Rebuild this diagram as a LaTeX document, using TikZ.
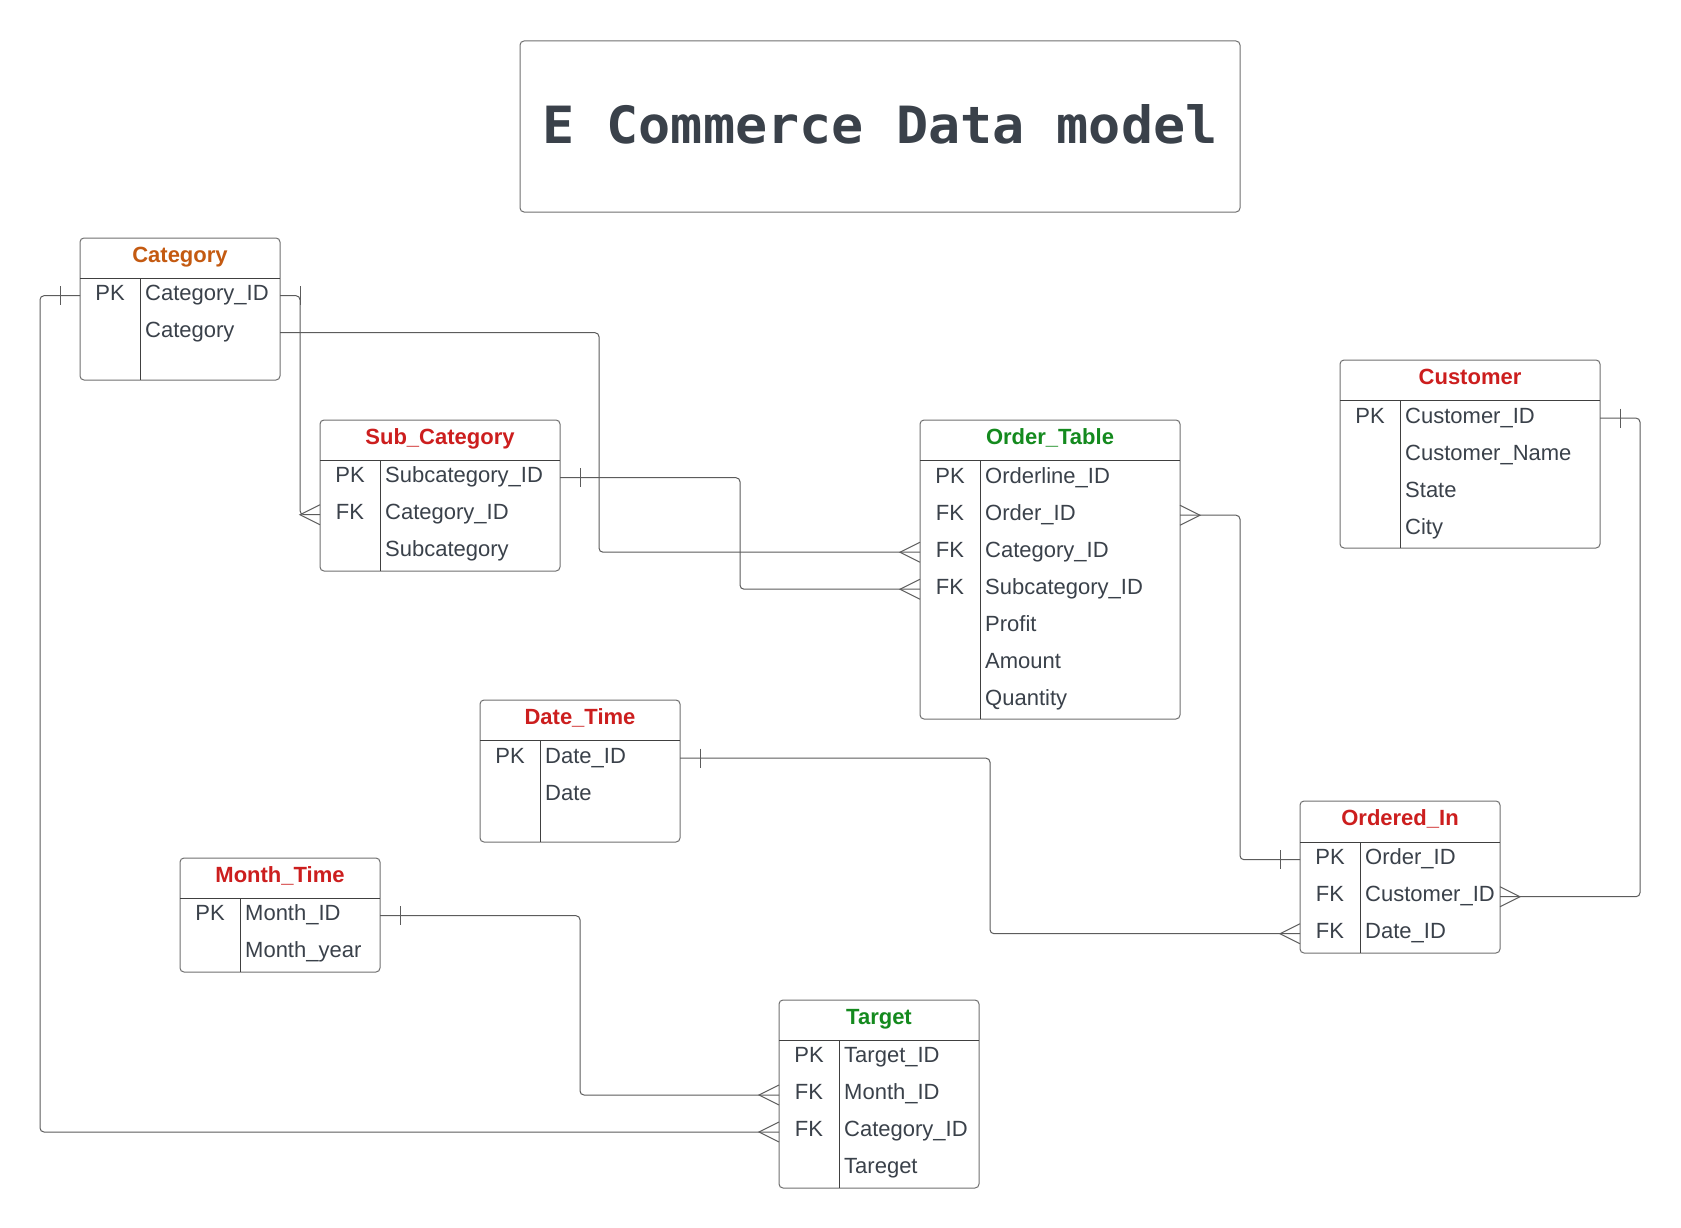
\documentclass[tikz,border=0pt]{standalone}
\usepackage{fontspec}
\usepackage{graphicx}
\setmainfont{Liberation Sans}
\newfontfamily\titlefont{DejaVu Sans Mono}
\usetikzlibrary{calc}
\definecolor{bordergray}{HTML}{707070}
\definecolor{innergray}{HTML}{404040}
\definecolor{linegray}{HTML}{5C5C5C}
\definecolor{txtgray}{HTML}{3A414A}
\definecolor{orangeH}{HTML}{C45A11}
\definecolor{redH}{HTML}{CC1E1E}
\definecolor{greenH}{HTML}{148A1E}
% #1 name #2 L #3 T #4 R #5 header-line y #6 B #7 colour #8 title
\newcommand\ertable[8]{%
  \node[tblbox, anchor=north west, minimum width={#4-#2}, minimum height={#6-#3}] (#1) at (#2,#3) {};
  \draw[tblinner] (#2,#5) -- (#4,#5) (#2+60,#5) -- (#2+60,#6);
  \node[hdrtext, text=#7] (#1-title) at ({(#2+#4)/2},{#3+24.5}) {#8};
}
% #1 name #2 L #3 header-line y #4 index #5 key #6 field
\newcommand\errow[6]{%
  \coordinate (#1) at (#2,{#3+17.7+37*(#4-1)});
  \node[keytext] (#1-k) at ({#2+30},{#3+22.6+37*(#4-1)}) {#5};
  \node[fieldtext] (#1-f) at ({#2+65},{#3+22.6+37*(#4-1)}) {#6};
}
\begin{document}
\begin{tikzpicture}[x=1pt,y=-1pt,
  tblbox/.style={draw=bordergray, line width=1pt, rounded corners=4pt, inner sep=0pt, outer sep=0pt, fill=white},
  tblinner/.style={draw=innergray, line width=1pt},
  hdrtext/.style={anchor=base, inner sep=0pt, font=\fontsize{22}{26}\selectfont\bfseries},
  keytext/.style={anchor=base, inner sep=0pt, text=txtgray, font=\fontsize{22}{26}\selectfont},
  fieldtext/.style={anchor=base west, inner sep=0pt, text=txtgray, font=\fontsize{22}{26}\selectfont},
  conn/.style={draw=linegray, line width=1pt, rounded corners=4pt},
  crow/.pic={\draw[draw=linegray, line width=1pt] (0,-10) -- (-20,0) -- (0,10);},
  onetick/.pic={\draw[draw=linegray, line width=1pt] (0,-9.5) -- (0,9.5);}
]
\fill[white] (0,0) rectangle (1681,1228);
\useasboundingbox (0,0) rectangle (1681,1228);

% title
\node[draw=bordergray, line width=1pt, rounded corners=4pt, minimum width=720, minimum height=171, inner sep=0pt] (titlebox) at (880,126.5) {};
\node[anchor=base, inner sep=0pt, text=txtgray] (title) at (880,143.3) {\resizebox{675pt}{39pt}{\titlefont\bfseries E Commerce Data model}};

% tables
\ertable{cat}{80}{238}{280}{278}{380}{orangeH}{Category}
\errow{cat-r1}{80}{278}{1}{PK}{Category\_ID}
\errow{cat-r2}{80}{278}{2}{}{Category}

\ertable{sub}{320}{420}{560}{460}{571}{redH}{Sub\_Category}
\errow{sub-r1}{320}{460}{1}{PK}{Subcategory\_ID}
\errow{sub-r2}{320}{460}{2}{FK}{Category\_ID}
\errow{sub-r3}{320}{460}{3}{}{Subcategory}

\ertable{ord}{920}{420}{1180}{460.5}{719}{greenH}{Order\_Table}
\errow{ord-r1}{920}{460.5}{1}{PK}{Orderline\_ID}
\errow{ord-r2}{920}{460.5}{2}{FK}{Order\_ID}
\errow{ord-r3}{920}{460.5}{3}{FK}{Category\_ID}
\errow{ord-r4}{920}{460.5}{4}{FK}{Subcategory\_ID}
\errow{ord-r5}{920}{460.5}{5}{}{Profit}
\errow{ord-r6}{920}{460.5}{6}{}{Amount}
\errow{ord-r7}{920}{460.5}{7}{}{Quantity}

\ertable{cus}{1340}{360}{1600}{400.4}{548}{redH}{Customer}
\errow{cus-r1}{1340}{400.4}{1}{PK}{Customer\_ID}
\errow{cus-r2}{1340}{400.4}{2}{}{Customer\_Name}
\errow{cus-r3}{1340}{400.4}{3}{}{State}
\errow{cus-r4}{1340}{400.4}{4}{}{City}

\ertable{dat}{480}{700}{680}{740.5}{842}{redH}{Date\_Time}
\errow{dat-r1}{480}{740.5}{1}{PK}{Date\_ID}
\errow{dat-r2}{480}{740.5}{2}{}{Date}

\ertable{mon}{180}{858}{380}{898}{972}{redH}{Month\_Time}
\errow{mon-r1}{180}{898}{1}{PK}{Month\_ID}
\errow{mon-r2}{180}{898}{2}{}{Month\_year}

\ertable{oin}{1300}{801}{1500}{842}{953}{redH}{Ordered\_In}
\errow{oin-r1}{1300}{842}{1}{PK}{Order\_ID}
\errow{oin-r2}{1300}{842}{2}{FK}{Customer\_ID}
\errow{oin-r3}{1300}{842}{3}{FK}{Date\_ID}

\ertable{tgt}{779}{1000}{979}{1040.3}{1188}{greenH}{Target}
\errow{tgt-r1}{779}{1040.3}{1}{PK}{Target\_ID}
\errow{tgt-r2}{779}{1040.3}{2}{FK}{Month\_ID}
\errow{tgt-r3}{779}{1040.3}{3}{FK}{Category\_ID}
\errow{tgt-r4}{779}{1040.3}{4}{}{Tareget}

% connectors
% Category.Category_ID -> Sub_Category.Category_ID
\draw[conn] (cat.east |- cat-r1) -- ++(20,0) |- (sub.west |- sub-r2);
\pic[xshift=20pt] at (cat.east |- cat-r1) {onetick};
\pic at (sub.west |- sub-r2) {crow};
% Category row -> Order_Table.Category_ID
\draw[conn] (cat.east |- cat-r2) -- ++(319,0) |- (ord.west |- ord-r3);
\pic at (ord.west |- ord-r3) {crow};
% Sub_Category.Subcategory_ID -> Order_Table.Subcategory_ID
\draw[conn] (sub.east |- sub-r1) -- ++(180,0) |- (ord.west |- ord-r4);
\pic[xshift=20pt] at (sub.east |- sub-r1) {onetick};
\pic at (ord.west |- ord-r4) {crow};
% Order_Table.Order_ID -> Ordered_In.Order_ID
\draw[conn] (ord.east |- ord-r2) -- ++(60,0) |- (oin.west |- oin-r1);
\pic[rotate=180] at (ord.east |- ord-r2) {crow};
\pic[xshift=-20pt] at (oin.west |- oin-r1) {onetick};
% Customer.Customer_ID -> Ordered_In.Customer_ID
\draw[conn] (cus.east |- cus-r1) -- ++(40,0) |- (oin.east |- oin-r2);
\pic[xshift=20pt] at (cus.east |- cus-r1) {onetick};
\pic[rotate=180] at (oin.east |- oin-r2) {crow};
% Date_Time.Date_ID -> Ordered_In.Date_ID
\draw[conn] (dat.east |- dat-r1) -- ++(310,0) |- (oin.west |- oin-r3);
\pic[xshift=20pt] at (dat.east |- dat-r1) {onetick};
\pic at (oin.west |- oin-r3) {crow};
% Month_Time.Month_ID -> Target.Month_ID
\draw[conn] (mon.east |- mon-r1) -- ++(200,0) |- (tgt.west |- tgt-r2);
\pic[xshift=20pt] at (mon.east |- mon-r1) {onetick};
\pic at (tgt.west |- tgt-r2) {crow};
% Category.Category_ID -> Target.Category_ID
\draw[conn] (cat.west |- cat-r1) -- ++(-40,0) |- (tgt.west |- tgt-r3);
\pic[xshift=-20pt] at (cat.west |- cat-r1) {onetick};
\pic at (tgt.west |- tgt-r3) {crow};
\end{tikzpicture}
\end{document}
